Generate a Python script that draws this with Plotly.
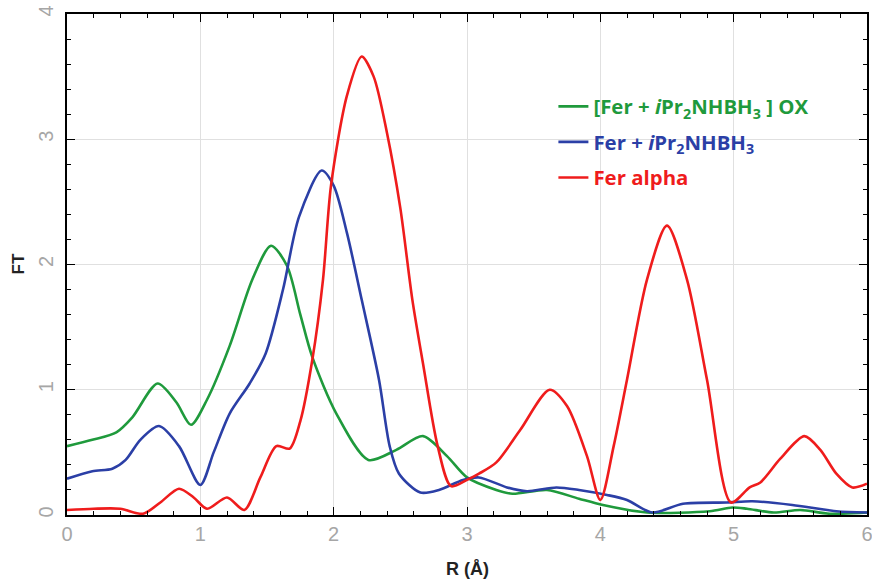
import plotly.graph_objects as go

# Fer alpha (red)
r_red = [0.0, 0.2, 0.4, 0.57, 0.7, 0.84, 0.95, 1.05, 1.2, 1.33, 1.45, 1.57, 1.67, 1.75, 1.84, 1.92, 1.98, 2.1, 2.21, 2.3, 2.4, 2.5, 2.59, 2.67, 2.78, 2.88, 3.0, 3.09, 3.22, 3.4, 3.62, 3.75, 3.9, 4.0, 4.1, 4.2, 4.35, 4.5, 4.65, 4.8, 4.98, 5.12, 5.2, 5.35, 5.53, 5.65, 5.77, 5.89, 6.0]
ft_red = [0.04, 0.05, 0.05, 0.01, 0.1, 0.21, 0.14, 0.05, 0.14, 0.04, 0.3, 0.55, 0.53, 0.75, 1.24, 1.88, 2.63, 3.35, 3.66, 3.5, 3.05, 2.45, 1.72, 1.21, 0.55, 0.23, 0.28, 0.33, 0.42, 0.68, 1.0, 0.87, 0.47, 0.12, 0.55, 1.08, 1.88, 2.31, 1.88, 1.08, 0.1, 0.22, 0.26, 0.45, 0.63, 0.52, 0.33, 0.22, 0.25]

# Fer + iPr2NHBH3 (blue)
r_blue = [0.0, 0.19, 0.34, 0.44, 0.55, 0.69, 0.84, 1.0, 1.1, 1.22, 1.37, 1.49, 1.62, 1.74, 1.91, 2.0, 2.1, 2.21, 2.34, 2.42, 2.49, 2.65, 2.79, 2.97, 3.09, 3.3, 3.45, 3.67, 3.84, 4.05, 4.2, 4.39, 4.62, 4.95, 5.14, 5.44, 5.77, 6.0]
ft_blue = [0.29, 0.35, 0.37, 0.44, 0.6, 0.71, 0.55, 0.24, 0.5, 0.81, 1.05, 1.29, 1.8, 2.38, 2.75, 2.63, 2.25, 1.72, 1.08, 0.55, 0.33, 0.18, 0.2, 0.28, 0.3, 0.22, 0.19, 0.22, 0.2, 0.16, 0.12, 0.02, 0.09, 0.1, 0.11, 0.08, 0.03, 0.02]

# [Fer + iPr2NHBH3] OX (green)
r_green = [0.0, 0.19, 0.37, 0.49, 0.68, 0.82, 0.93, 1.05, 1.22, 1.39, 1.53, 1.65, 1.75, 1.84, 2.02, 2.26, 2.47, 2.67, 2.85, 3.0, 3.22, 3.34, 3.6, 3.84, 4.02, 4.35, 4.82, 4.99, 5.1, 5.3, 5.5, 5.72, 6.0]
ft_green = [0.55, 0.6, 0.66, 0.78, 1.05, 0.9, 0.72, 0.92, 1.35, 1.88, 2.15, 1.99, 1.6, 1.26, 0.81, 0.44, 0.52, 0.63, 0.47, 0.3, 0.2, 0.17, 0.2, 0.13, 0.08, 0.02, 0.03, 0.06, 0.05, 0.02, 0.04, 0.01, 0.02]

x_title = "R (Å)"
y_title = "FT"

GREEN = "#1f9a3c"
BLUE = "#2b3fa6"
RED = "#ef1c1c"

fig = go.Figure()
series = [
    (r_green, ft_green, GREEN, "[Fer + <i>i</i>Pr<sub>2</sub>NHBH<sub>3</sub> ] OX"),
    (r_blue, ft_blue, BLUE, "Fer + <i>i</i>Pr<sub>2</sub>NHBH<sub>3</sub>"),
    (r_red, ft_red, RED, "Fer alpha"),
]
for i, (xs, ys, col, name) in enumerate(series):
    fig.add_trace(go.Scatter(
        x=xs, y=ys, mode="lines",
        line=dict(color=col, width=2.6, shape="spline", smoothing=0.8),
        name=f'<span style="color:{col}"><b>{name}</b></span>',
        legendgroup=f"g{i}",
    ))

axis_common = dict(
    showline=True, linecolor="black", linewidth=2, mirror="ticks",
    ticks="inside", ticklen=8, tickcolor="black", tickwidth=1,
    tickmode="linear", tick0=0, dtick=1,
    minor=dict(dtick=0.2, ticks="inside", ticklen=4),
    showgrid=True, gridcolor="#e0e0e0", gridwidth=1, zeroline=False,
    automargin=False, ticklabeloverflow="allow",
    tickfont=dict(family="Liberation Sans", size=20, color="#a6a6a6"),
)

fig.update_xaxes(range=[0, 6], ticklabelstandoff=0, **axis_common)
fig.update_yaxes(range=[0, 4], tickangle=-90, ticklabelstandoff=4, **axis_common)

fig.add_annotation(text=f"<b>{x_title}</b>", xref="paper", yref="paper", x=0.5, y=0,
                   yshift=-54, xanchor="center", yanchor="middle", showarrow=False,
                   font=dict(family="Liberation Sans", size=18, color="#222"))
fig.add_annotation(text=f"<b>{y_title}</b>", xref="paper", yref="paper", x=0, y=0.5,
                   xshift=-49, xanchor="center", yanchor="middle", showarrow=False, textangle=-90,
                   font=dict(family="Liberation Sans", size=17, color="#222"))

fig.update_layout(
    width=872, height=583,
    margin=dict(l=67, r=5, t=14, b=68),
    paper_bgcolor="white", plot_bgcolor="white",
    legend=dict(
        x=0.608, y=0.855, xanchor="left", yanchor="top",
        bgcolor="rgba(0,0,0,0)", borderwidth=0,
        font=dict(family="Open Sans", size=20.4),
        tracegroupgap=6, itemwidth=30,
    ),
)

fig.write_html("out.html", config={"displayModeBar": False},
               post_script="document.body.style.margin='0';")
